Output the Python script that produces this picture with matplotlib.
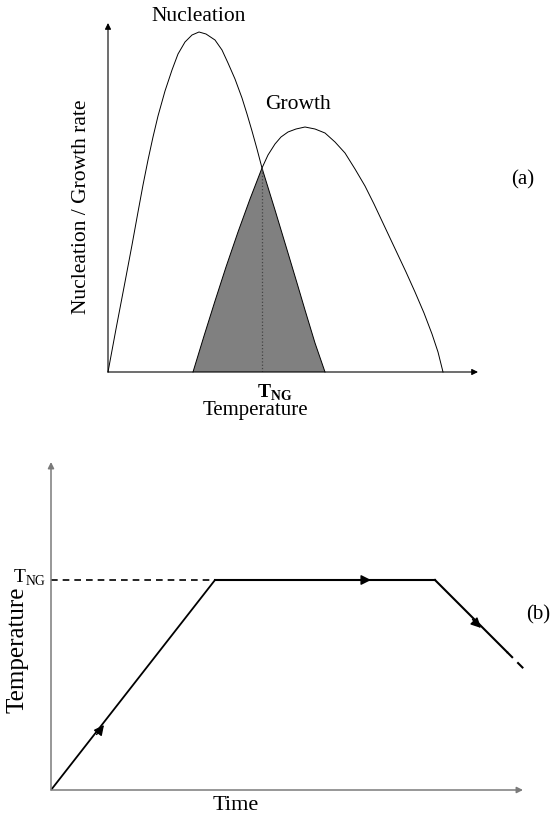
import numpy as np
import matplotlib.pyplot as plt

plt.rcParams['font.family'] = ['Liberation Serif', 'DejaVu Serif']
plt.rcParams['mathtext.fontset'] = 'custom'
plt.rcParams['mathtext.rm'] = 'Liberation Serif'
plt.rcParams['mathtext.bf'] = 'Liberation Serif:bold'

# (a) nucleation and growth rate vs temperature (arbitrary units)
nuc_T = [0, 8, 17, 24, 30, 35, 40, 45, 50, 57, 64, 70, 77, 84, 91, 98, 107, 114,
         120, 127, 134, 139, 144, 149, 154, 167, 180, 189, 197, 207, 217]
nuc_rate = [0, 43, 90, 127, 160, 187, 212, 235, 256, 281, 302, 318, 330, 337, 340, 338, 332, 322,
            309, 293, 274, 258, 241, 223, 204, 162, 119, 89, 62, 29, 0]
gro_T = [85, 96, 107, 118, 130, 142, 154, 160, 167, 173, 180, 188, 197, 207, 217,
         227, 237, 247, 257, 266, 274, 282, 290, 298, 307, 316, 324, 330, 335]
gro_rate = [0, 36, 71, 105, 140, 173, 204, 217, 228, 235, 240, 243, 245, 243, 239,
            230, 219, 203, 186, 168, 151, 134, 117, 100, 80, 59, 38, 20, 0]
T_NG = 154
T_NG_rate = 204

# (b) heat treatment profile (time, temperature)
ramp_t = [0, 164]
ramp_T = [0, 210]
hold_t = [164, 384]
hold_T = [210, 210]
cool_t = [384, 456]
cool_T = [210, 138]
cool_dash_t = [456, 474]
cool_dash_T = [138, 120]
arrow_pts = [(53, 65), (320, 210), (430, 162)]
arrow_dirs = [(164, 210), (1, 0), (1, -1)]

fig = plt.figure(figsize=(5.58, 8.19), dpi=100)

def arrow_axes(ax, xmax, ymax, color, lw):
    for tip in [(xmax, 0), (0, ymax)]:
        ax.annotate('', xy=tip, xytext=(0, 0), annotation_clip=False,
                    arrowprops=dict(arrowstyle='-|>', color=color, lw=lw,
                                    mutation_scale=9, shrinkA=0, shrinkB=0))
    ax.set_xlim(0, xmax)
    ax.set_ylim(0, ymax)
    ax.axis('off')

# ---- panel (a)
ax1 = fig.add_axes([108 / 558, 1 - 372 / 819, 370 / 558, 349 / 819])
arrow_axes(ax1, 370, 349, 'black', 0.8)

nuc_T = np.array(nuc_T); nuc_rate = np.array(nuc_rate)
gro_T = np.array(gro_T); gro_rate = np.array(gro_rate)
ax1.plot(nuc_T, nuc_rate, color='black', lw=0.7, clip_on=False)
ax1.plot(gro_T, gro_rate, color='black', lw=0.7, clip_on=False)

left = gro_T <= T_NG
right = nuc_T >= T_NG
poly_x = np.concatenate([gro_T[left], nuc_T[right]])
poly_y = np.concatenate([gro_rate[left], nuc_rate[right]])
ax1.fill(poly_x, poly_y, color='#808080', lw=0)
ax1.plot([T_NG, T_NG], [0, T_NG_rate], color='#444444', lw=0.9, ls=':')

ax1.text(91, 355, 'Nucleation', fontsize=15.5, ha='center', va='center')
ax1.text(190, 267, 'Growth', fontsize=15.5, ha='center', va='center')
ax1.text(-26, 165, 'Nucleation / Growth rate', fontsize=15.5, rotation=90,
         ha='center', va='center')
ax1.text(149, -21, r'$\mathbf{T}_{\mathbf{NG}}$', fontsize=14, ha='left', va='center')
ax1.text(147, -39, 'Temperature', fontsize=15, ha='center', va='center')
ax1.text(415, 192, '(a)', fontsize=15, ha='center', va='center')

# ---- panel (b)
ax2 = fig.add_axes([51 / 558, 1 - 790 / 819, 472 / 558, 328 / 819])
arrow_axes(ax2, 472, 328, '#7a7a7a', 1.1)

ax2.plot([0, ramp_t[1]], [ramp_T[1], ramp_T[1]], color='black', lw=1.2, ls=(0, (4, 3)))
ax2.plot(ramp_t, ramp_T, color='black', lw=1.3, solid_capstyle='butt')
ax2.plot(hold_t, hold_T, color='black', lw=1.5)
ax2.plot(cool_t, cool_T, color='black', lw=1.5)
ax2.plot(cool_dash_t, cool_dash_T, color='black', lw=1.5, ls=(0, (4, 3)), clip_on=False)
for (px, py), (dx, dy) in zip(arrow_pts, arrow_dirs):
    n = np.hypot(dx, dy)
    ax2.annotate('', xy=(px, py), xytext=(px - 12 * dx / n, py - 12 * dy / n),
                 arrowprops=dict(arrowstyle='-|>', color='black', lw=1,
                                 mutation_scale=15, shrinkA=0, shrinkB=0))

ax2.text(-38, 212, r'$\mathrm{T}_{\mathrm{NG}}$', fontsize=14, ha='left', va='center')
ax2.text(-33, 140, 'Temperature', fontsize=18, rotation=90, ha='center', va='center')
ax2.text(185, -15, 'Time', fontsize=16, ha='center', va='center')
ax2.text(487, 175, '(b)', fontsize=15, ha='center', va='center')

fig.savefig('out.png', dpi=100)
